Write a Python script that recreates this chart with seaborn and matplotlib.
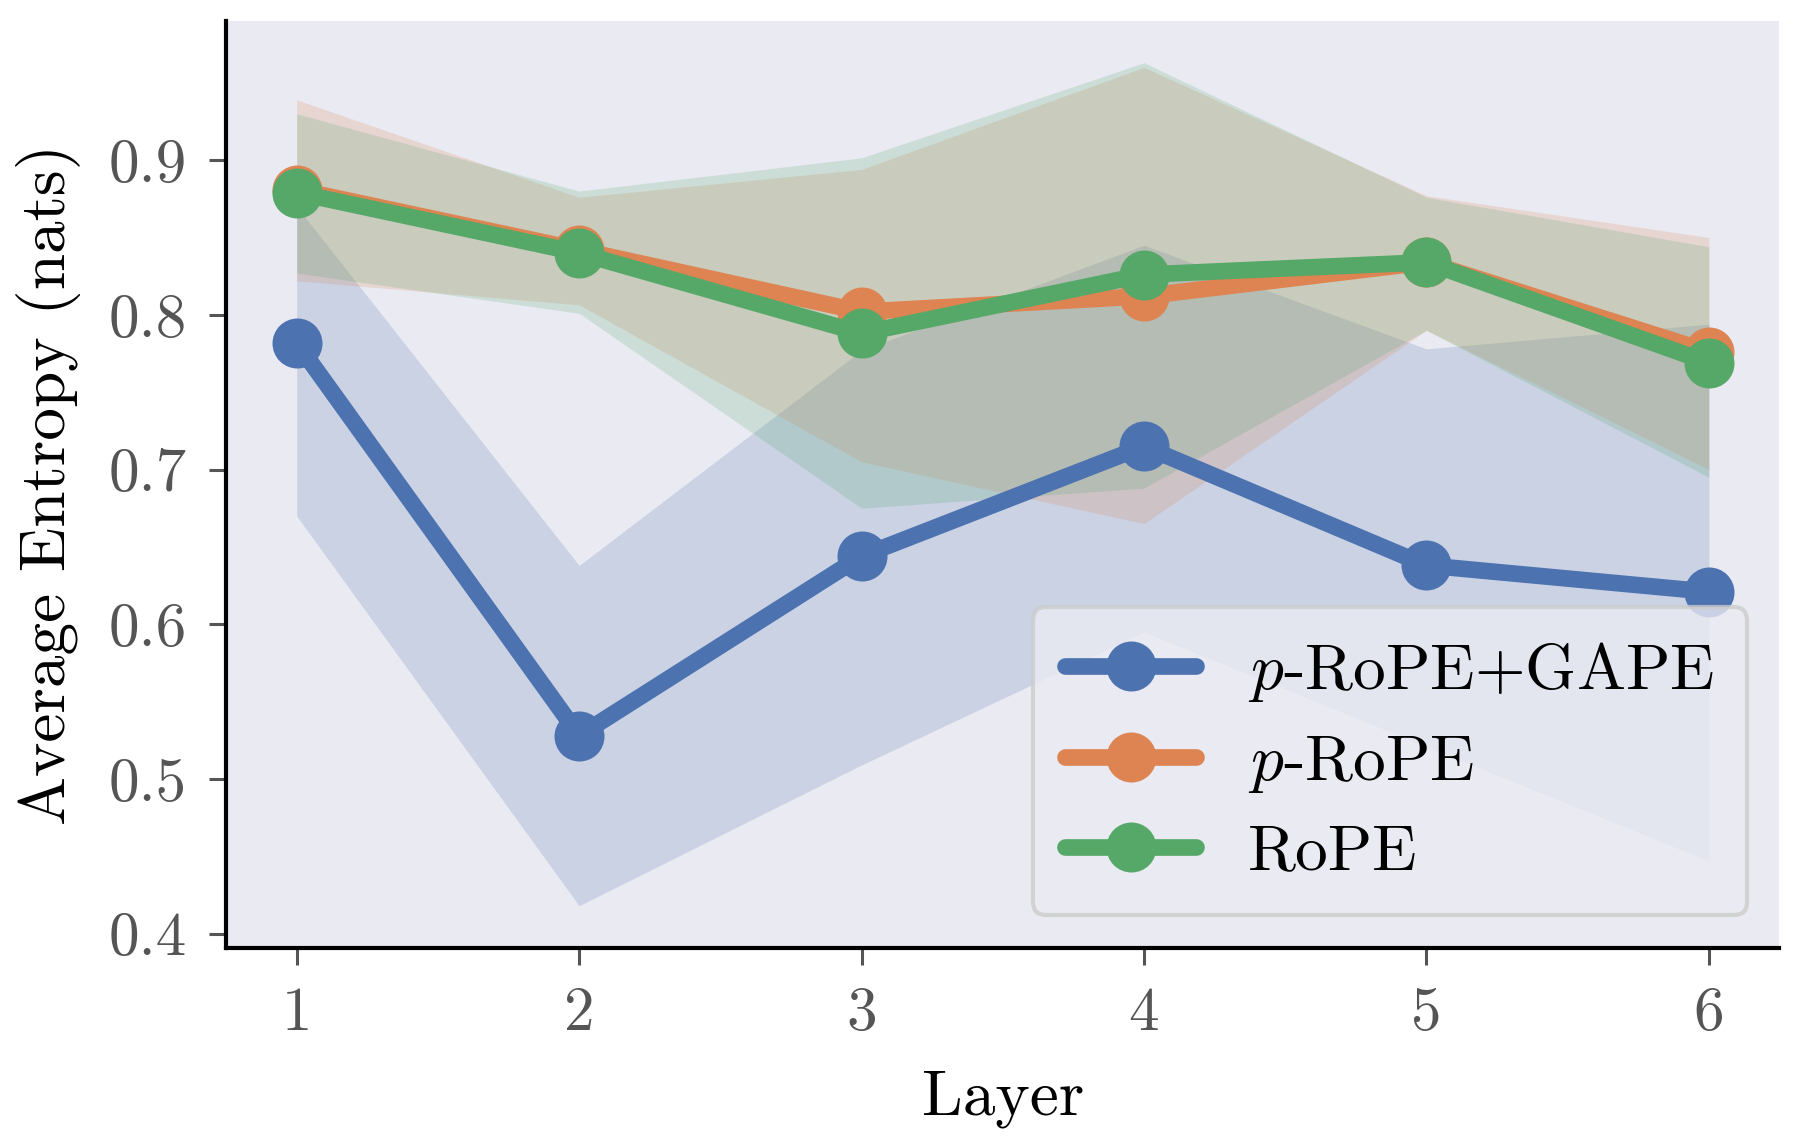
import numpy as np
import pandas as pd
import matplotlib
matplotlib.use('Agg')
import matplotlib.pyplot as plt
import seaborn as sns

# values
layers = [1, 2, 3, 4, 5, 6]
methods = ['$p$-RoPE+GAPE', '$p$-RoPE', 'RoPE']

gape_mean = [0.782, 0.528, 0.644, 0.715, 0.638, 0.621]
gape_lo = [0.670, 0.418, 0.509, 0.595, 0.521, 0.447]
gape_hi = [0.870, 0.638, 0.777, 0.845, 0.778, 0.794]

prope_mean = [0.881, 0.842, 0.802, 0.812, 0.834, 0.776]
prope_lo = [0.822, 0.8065, 0.705, 0.665, 0.790, 0.700]
prope_hi = [0.939, 0.876, 0.894, 0.960, 0.877, 0.850]

rope_mean = [0.879, 0.840, 0.788, 0.826, 0.834, 0.769]
rope_lo = [0.827, 0.801, 0.675, 0.688, 0.790, 0.695]
rope_hi = [0.930, 0.880, 0.9015, 0.963, 0.876, 0.844]

means = [gape_mean, prope_mean, rope_mean]
lows = [gape_lo, prope_lo, rope_lo]
highs = [gape_hi, prope_hi, rope_hi]

sns.set_theme(style='dark')
plt.rcParams['font.family'] = ['cmr10', 'DejaVu Serif']
plt.rcParams['mathtext.fontset'] = 'cm'
plt.rcParams['axes.unicode_minus'] = False
plt.rcParams['axes.formatter.use_mathtext'] = True

colors = sns.color_palette('deep')[:3]

df = pd.DataFrame({
    'Layer': layers * 3,
    'Entropy': gape_mean + prope_mean + rope_mean,
    'Method': [m for m in methods for _ in layers],
})

fig = plt.figure(figsize=(9, 5.71), dpi=200, facecolor='white')
ax = fig.add_axes([0.1256, 0.170, 0.863, 0.812])

# shaded bands
for c, lo, hi in zip(colors, lows, highs):
    ax.fill_between(layers, lo, hi, color=c, alpha=0.2, linewidth=0)

sns.lineplot(data=df, x='Layer', y='Entropy', hue='Method', hue_order=methods,
             palette=colors, marker='o', markersize=18, markeredgewidth=0,
             linewidth=6, errorbar=None, ax=ax)

ax.set_xticks(layers)
ax.set_yticks([0.4, 0.5, 0.6, 0.7, 0.8, 0.9])
ax.set_yticklabels(['0.4', '0.5', '0.6', '0.7', '0.8', '0.9'])
ax.set_xticklabels([str(l) for l in layers])

ax.tick_params(axis='both', which='major', labelsize=22, colors='#555555',
               length=6, width=1.1, pad=8, bottom=True, left=True, direction='out')
ax.set_xlabel('Layer', fontsize=23.5, color='black', labelpad=10)
ax.set_ylabel('Average Entropy (nats)', fontsize=23.5, color='black', labelpad=10)

ax.spines['top'].set_visible(False)
ax.spines['right'].set_visible(False)
for s in ['left', 'bottom']:
    ax.spines[s].set_color('black')
    ax.spines[s].set_linewidth(1.5)

leg = ax.legend(loc='lower right', fontsize=23.5, framealpha=0.8, handlelength=2.0,
                handletextpad=0.8, labelspacing=0.45, borderpad=0.5)
leg.get_frame().set_edgecolor('#cccccc')
leg.get_frame().set_linewidth(1.5)
for t in leg.get_texts():
    t.set_color('black')

plt.savefig('out.png', dpi=200, facecolor='white')
